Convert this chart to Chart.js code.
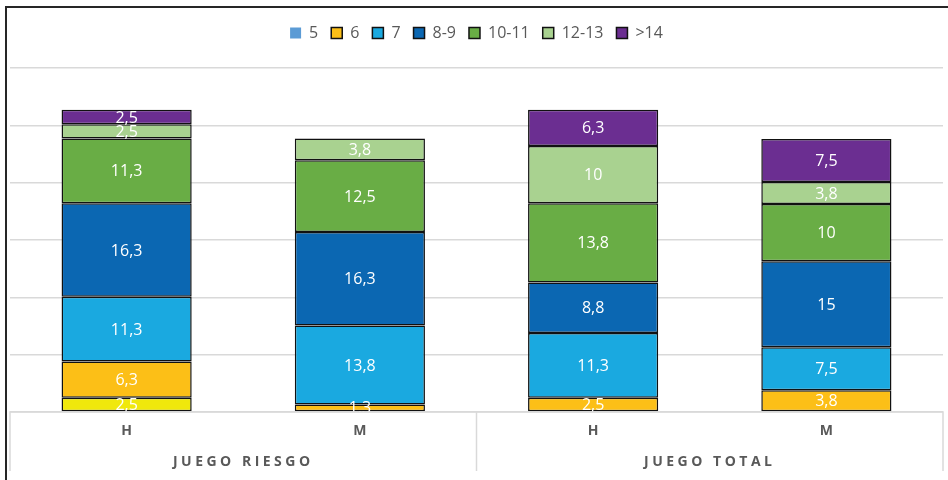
<!DOCTYPE html>
<html>
<head>
<meta charset="utf-8">
<script src="https://cdn.jsdelivr.net/npm/chart.js@4.4.1/dist/chart.umd.min.js"></script>
<style>
  html, body { margin: 0; padding: 0; background: #ffffff; }
  #wrap { width: 948px; height: 480px; position: relative; }
</style>
</head>
<body>
<div id="wrap"><canvas id="c" width="948" height="480"></canvas></div>
<script>
// ---- data ----
const categories = ['H', 'M', 'H', 'M'];
const groups = ['JUEGO RIESGO', 'JUEGO TOTAL'];
const seriesNames = ['5', '6', '7', '8-9', '10-11', '12-13', '>14'];
const s5    = [2.5, null, null, null];
const s6    = [6.3, 1.3, 2.5, 3.8];
const s7    = [11.3, 13.8, 11.3, 7.5];
const s8_9  = [16.3, 16.3, 8.8, 15];
const s10_11 = [11.3, 12.5, 13.8, 10];
const s12_13 = [2.5, 3.8, 10, 3.8];
const s14   = [2.5, null, 6.3, 7.5];
const yMax = 60;
const yStep = 10;

// ---- styles ----
const barColors = ['#f0e80c', '#fcbf17', '#1aa9e0', '#0b67b2', '#69ad45', '#a9d290', '#6b2e91'];
const legendColors = ['#5b9bd5', '#fcbf17', '#1aa9e0', '#0b67b2', '#69ad45', '#a9d290', '#6b2e91'];
const seriesValues = [s5, s6, s7, s8_9, s10_11, s12_13, s14];
const FONT = '"Open Sans", "Liberation Sans", sans-serif';

const datasets = seriesNames.map((name, i) => ({
  label: name,
  data: seriesValues[i],
  backgroundColor: barColors[i],
  borderColor: '#111111',
  borderWidth: 1.5,
  borderSkipped: false,
  categoryPercentage: 1.0,
  barPercentage: 0.558
}));

const framePlugin = {
  id: 'frame',
  beforeInit(chart) {
    const lg = chart.legend;
    if (lg) {
      const orig = lg.fit;
      lg.fit = function () { orig.call(this); this.height = 56; };
    }
  },
  afterLayout(chart) {
    const s = chart.scales.x2;
    if (s && !s._lsPatched) {
      const orig = s.drawLabels;
      s.drawLabels = function (ca) {
        const ctx = this.ctx;
        ctx.save();
        ctx.letterSpacing = '3.5px';
        orig.call(this, ca);
        ctx.restore();
      };
      s._lsPatched = true;
    }
  },
  beforeDraw(chart) {
    const ctx = chart.ctx;
    ctx.save();
    ctx.fillStyle = '#ffffff';
    ctx.fillRect(0, 0, chart.width, chart.height);
    ctx.strokeStyle = '#262626';
    ctx.lineWidth = 2;
    ctx.beginPath();
    ctx.moveTo(6, 480);
    ctx.lineTo(6, 7);
    ctx.lineTo(948, 7);
    ctx.stroke();
    ctx.restore();
  },
  afterDatasetsDraw(chart) {
    const ctx = chart.ctx;
    const ca = chart.chartArea;
    ctx.save();
    ctx.beginPath();
    ctx.rect(ca.left, ca.top - 20, ca.right - ca.left, ca.bottom - ca.top + 20);
    ctx.clip();
    ctx.fillStyle = '#ffffff';
    ctx.font = '16px ' + FONT;
    ctx.textAlign = 'center';
    ctx.textBaseline = 'middle';
    chart.data.datasets.forEach((ds, i) => {
      const meta = chart.getDatasetMeta(i);
      meta.data.forEach((el, j) => {
        const v = ds.data[j];
        if (v === null || v === undefined) return;
        const yc = (el.y + el.base) / 2;
        ctx.fillText(String(v).replace('.', ','), el.x, yc + 1);
      });
    });
    ctx.restore();
  },
  afterDraw(chart) {
    const ctx = chart.ctx;
    const ca = chart.chartArea;
    const bottom = 471;
    const mid = (ca.left + ca.right) / 2;
    ctx.save();
    ctx.strokeStyle = '#d9d9d9';
    ctx.lineWidth = 1.5;
    ctx.beginPath();
    ctx.moveTo(ca.left, bottom);
    ctx.lineTo(ca.left, ca.bottom);
    ctx.lineTo(ca.right, ca.bottom);
    ctx.lineTo(ca.right, bottom);
    ctx.moveTo(mid, ca.bottom);
    ctx.lineTo(mid, bottom);
    ctx.stroke();
    ctx.restore();
  }
};

new Chart(document.getElementById('c'), {
  type: 'bar',
  data: { labels: categories, datasets: datasets },
  options: {
    responsive: false,
    animation: false,
    devicePixelRatio: 1,
    layout: { padding: { top: 12, left: 10, right: 5, bottom: 2 } },
    plugins: {
      tooltip: { enabled: false },
      legend: {
        position: 'top',
        align: 'center',
        labels: {
          boxWidth: 11,
          boxHeight: 11,
          padding: 13,
          color: '#595959',
          font: { family: FONT, size: 16 },
          generateLabels(chart) {
            const items = Chart.defaults.plugins.legend.labels.generateLabels(chart);
            items.forEach((it, i) => {
              it.fillStyle = legendColors[i];
              if (i === 0) { it.lineWidth = 0; it.strokeStyle = legendColors[i]; }
              else { it.lineWidth = 1.5; it.strokeStyle = '#111111'; }
            });
            return items;
          }
        }
      }
    },
    scales: {
      x: {
        stacked: true,
        position: 'bottom',
        grid: { display: false },
        border: { display: false },
        ticks: { color: '#595959', font: { family: FONT, size: 14, weight: 'bold' }, padding: 3 },
        afterFit(s) { s.height = 30; }
      },
      x2: {
        type: 'category',
        labels: groups,
        position: 'bottom',
        offset: true,
        grid: { display: false },
        border: { display: false },
        ticks: { color: '#595959', font: { family: FONT, size: 14, weight: 'bold' }, padding: 4 },
        afterFit(s) { s.height = 36; }
      },
      y: {
        stacked: true,
        min: 0,
        max: yMax,
        ticks: { display: false, stepSize: yStep },
        grid: { color: '#d9d9d9', lineWidth: 1.5, drawTicks: false },
        border: { display: false },
        afterFit(s) { s.width = 0; }
      }
    }
  },
  plugins: [framePlugin]
});
</script>
</body>
</html>
